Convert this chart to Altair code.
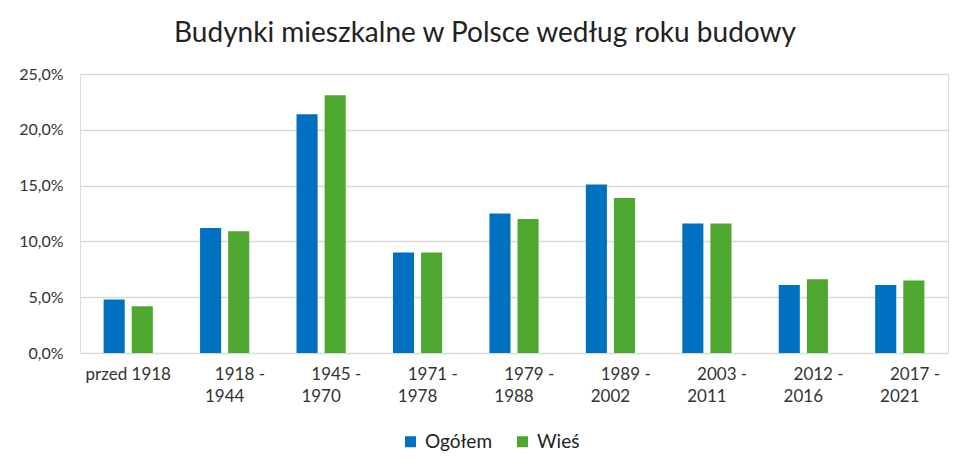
import altair as alt
import pandas as pd

PAD = "\u200b" + "\u00a0" * 7
categories = ["przed 1918", PAD + "1918 -|1944", PAD + "1945 -|1970", PAD + "1971 -|1978",
              PAD + "1979 -|1988", PAD + "1989 -|2002", PAD + "2003 -|2011",
              PAD + "2012 -|2016", PAD + "2017 -|2021"]
ogolem = [4.8, 11.2, 21.4, 9.0, 12.5, 15.1, 11.6, 6.1, 6.1]
wies = [4.2, 10.9, 23.1, 9.0, 12.0, 13.9, 11.6, 6.6, 6.5]
series = ["Ogółem", "Wieś"]
colors = ["#0070c0", "#4ea72e"]

rows = []
for c, a, b in zip(categories, ogolem, wies):
    rows.append({"okres": c, "seria": series[0], "wartosc": a})
    rows.append({"okres": c, "seria": series[1], "wartosc": b})
df = pd.DataFrame(rows)

FONT = "Lato"

chart = alt.Chart(df).mark_bar().encode(
    x=alt.X("okres:N", sort=categories,
            scale=alt.Scale(paddingInner=0.49, paddingOuter=0.245),
            axis=alt.Axis(title=None, labelAngle=0, labelExpr="split(datum.label, '|')",
                          labelLineHeight=22, labelPadding=13, ticks=False, domain=False,
                          grid=False, labelFontSize=17, labelColor="#333333", labelFont=FONT)),
    xOffset=alt.XOffset("seria:N", sort=series, scale=alt.Scale(paddingInner=0.25, paddingOuter=0)),
    y=alt.Y("wartosc:Q", scale=alt.Scale(domain=[0, 25], nice=False),
            axis=alt.Axis(title=None, values=[0, 5, 10, 15, 20, 25], ticks=False, domain=False,
                          labelExpr="replace(format(datum.value, '.1f'), '.', ',') + '%'",
                          labelPadding=17, labelFontSize=16, labelColor="#333333", labelFont=FONT,
                          gridColor="#d9d9d9", gridWidth=1.3)),
    color=alt.Color("seria:N", sort=series,
                    scale=alt.Scale(domain=series, range=colors),
                    legend=alt.Legend(title=None, orient="none", direction="horizontal",
                                      legendX=321, legendY=358, symbolType="square",
                                      symbolSize=121, symbolStrokeWidth=0, labelFontSize=19,
                                      labelFont=FONT, labelColor="#222222", labelOffset=5,
                                      columnPadding=20, padding=0)),
).properties(
    width=868, height=279,
    title=alt.TitleParams("Budynki mieszkalne w Polsce według roku budowy", anchor="middle",
                          dx=-29, offset=18, fontSize=28, font=FONT,
                          fontWeight="normal", color="#222222"),
    autosize=alt.AutoSizeParams(type="none"),
    padding={"left": 72, "top": 66, "right": 14, "bottom": 110},
).configure_view(stroke=None).configure(background="white")

chart.save("out.html", embed_options={"renderer": "svg", "actions": False})
